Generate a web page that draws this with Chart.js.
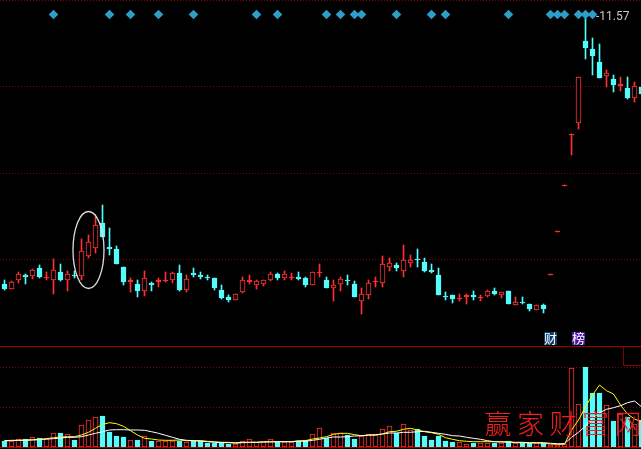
<!DOCTYPE html>
<html>
<head>
<meta charset="utf-8">
<style>
  html, body { margin: 0; padding: 0; background: #000; overflow: hidden; }
  canvas { display: block; }
</style>
<script src="https://cdn.jsdelivr.net/npm/chart.js@4"></script>
</head>
<body>
<canvas id="kline" width="641" height="449"></canvas>
<script>
// values
const opens = [6.21,6.11,6.29,6.39,6.37,6.53,6.33,6.29,6.45,6.29,6.39,6.37,6.77,6.93,7.43,6.95,6.91,6.55,6.25,6.21,6.07,6.23,6.25,6.27,6.29,6.43,6.09,6.43,6.39,6.35,
  6.33,6.09,5.95,5.89,6.05,6.25,6.19,6.21,6.29,6.41,6.33,6.33,6.35,6.33,6.19,6.43,6.29,6.13,6.21,6.29,6.21,5.87,5.99,6.25,6.23,6.55,6.59,6.47,6.63,6.71,6.65,
  6.49,6.39,5.97,5.99,5.91,5.95,5.99,5.93,5.97,6.07,5.99,6.07,5.79,5.85,5.81,5.69,5.79,6.39,7.25,8.17,9.19,9.43,11.07,10.91,10.65,10.37,10.31,10.17,10.13,9.93,10.15];
const closes = [6.11,6.25,6.41,6.35,6.49,6.35,6.35,6.49,6.29,6.41,6.37,6.87,7.05,7.39,7.15,6.91,6.61,6.25,6.29,6.07,6.33,6.19,6.29,6.29,6.43,6.09,6.31,6.39,6.35,6.33,
  6.13,5.93,5.89,6.01,6.29,6.29,6.27,6.29,6.41,6.33,6.41,6.35,6.31,6.19,6.45,6.45,6.13,6.19,6.31,6.27,5.95,6.01,6.23,6.27,6.61,6.63,6.53,6.69,6.69,6.69,6.47,
  6.45,5.99,5.95,5.91,5.93,5.99,5.95,5.95,6.07,6.01,6.05,5.81,5.85,5.83,5.71,5.79,5.71,6.41,7.27,8.19,9.21,10.35,10.93,10.77,10.33,10.43,10.19,10.21,9.93,10.17,10.01];
const highs = [6.29,6.27,6.45,6.41,6.51,6.59,6.45,6.71,6.61,6.47,6.47,7.11,7.19,7.55,7.79,7.33,6.97,6.55,6.33,6.29,6.47,6.25,6.33,6.45,6.45,6.59,6.39,6.53,6.45,6.39,
  6.33,6.19,5.99,6.01,6.35,6.39,6.29,6.29,6.45,6.43,6.47,6.43,6.45,6.35,6.45,6.61,6.35,6.29,6.35,6.39,6.27,6.13,6.29,6.35,6.77,6.73,6.63,6.99,6.79,6.91,6.73,
  6.61,6.53,6.05,5.99,6.01,6.01,6.07,5.99,6.09,6.13,6.05,6.07,5.95,5.95,5.81,5.79,5.81,6.41,7.27,8.19,9.21,10.35,11.57,11.13,11.01,10.49,10.39,10.35,10.35,10.25,10.15];
const lows = [6.09,6.11,6.23,6.21,6.31,6.33,6.29,6.01,6.27,6.07,6.33,6.29,6.73,6.83,7.15,6.79,6.61,6.19,6.05,5.95,5.97,6.07,6.15,6.25,6.23,6.07,6.05,6.35,6.31,6.29,
  6.09,5.91,5.85,5.89,6.03,6.21,6.11,6.17,6.27,6.29,6.29,6.29,6.29,6.15,6.19,6.35,6.13,5.87,6.07,6.19,5.95,5.61,5.91,6.15,6.15,6.47,6.47,6.35,6.55,6.55,6.45,
  6.43,5.99,5.89,5.83,5.87,5.81,5.89,5.87,5.95,5.99,5.93,5.81,5.79,5.81,5.67,5.69,5.63,6.39,7.25,8.17,8.79,9.31,10.71,10.39,10.33,10.15,10.05,10.07,9.91,9.85,10.01];

const volumes = [6,6,8,8,10,9,8,14,14,13,7,22,27,30,31,15,11,10,7,7,11,6,6,6,6,6,5,6,6,4,
  4,5,3,3,6,8,5,5,8,5,5,5,6,7,13,19,9,14,14,12,8,11,13,12,18,21,14,23,17,18,11,
  7,11,6,5,5,3,4,4,4,4,4,6,4,4,4,4,4,2,2,3,79,43,80,54,54,42,26,33,30,23,27];
const maFast = [6.3,6.3,6.7,7,7.3,7.7,8.3,9.3,10,10.3,10.3,12,14.7,18.7,22.7,24.3,23.3,20.7,16.3,12,8.7,8,7,6.7,6.7,7,6.3,6.3,6.3,5.7,
  5.3,4.7,4.7,3.7,4.3,4.7,4.7,5.3,5.3,5.3,5.3,5.3,6.3,6.3,8,9,10.3,12.7,13.7,13.7,12.3,11.3,11.7,12,13,15.3,15.7,17.7,18.7,17,15.3,
  14.3,12.7,9.3,7.7,6.3,5.7,5.3,5.3,5.3,5.3,5.3,5.3,4.3,4.3,4,4,3.7,3,2.7,2.7,17,27,40.3,52,62,56.3,53,42,33,28,25.3];
const maSlow = [6.3,6.7,6.7,6.7,7,7.3,8,8.3,9,9.7,9.7,10.3,12,13.7,15.3,17,17.3,17.3,17,17,16.7,15.3,13.7,11.7,9.7,7.7,6.7,6.3,6,5.3,
  4.7,4.3,4.3,4.3,4.7,4.7,4.7,5,5,5.3,5.3,5.3,5.7,5.7,6.7,7.7,9,10,10,10.3,11,11.3,12,12.3,13,14,14,14.7,14.7,15.3,15.7,
  14.7,13.7,12.7,11.3,11,9.7,8.7,7.7,6.3,5.3,5,4.7,4.7,4.7,4.3,4.3,4.3,3.7,3.3,3.3,9.7,14.7,21,28.7,34.3,37.7,39.3,41.3,44.3,46,40.3];

const signalDays = [7,15,18,22,27,36,39,46,48,50,51,56,61,63,72,78,79,80,82,83,84];
const priceGrid = [11.89, 10.17, 8.43, 6.71];
const volumeGrid = [80, 40];
const priceLabel = "-11.57";
const badges = ["财", "榜"];
const watermark = ["赢", "家", "财", "富", "网"];

const RED = "#ff3232";
const CYAN = "#54fcfc";
const GRID = "#800000";

const days = opens.map((o, i) => i);
const isUp = (i) => closes[i] >= opens[i];
// a body of one or two pixels has no room for a hollow middle
const bodyFill = (i) => {
  if (!isUp(i)) return CYAN;
  return Math.abs(closes[i] - opens[i]) < 0.05 ? RED : "#000000";
};

const overlay = {
  id: "overlay",
  afterDatasetsDraw(chart) {
    const ctx = chart.ctx;
    const x = chart.scales.x;
    const y = chart.scales.y;
    const vol = chart.scales.vol;
    ctx.save();

    // panel lines
    ctx.strokeStyle = "#a00000";
    ctx.lineWidth = 1;
    ctx.beginPath();
    ctx.moveTo(0, Math.round(vol.top) + 0.5);
    ctx.lineTo(641, Math.round(vol.top) + 0.5);
    ctx.moveTo(0, Math.round(vol.getPixelForValue(0)) + 0.5);
    ctx.lineTo(641, Math.round(vol.getPixelForValue(0)) + 0.5);
    ctx.stroke();
    ctx.strokeStyle = GRID;
    ctx.beginPath();
    ctx.moveTo(623.5, vol.top);
    ctx.lineTo(623.5, vol.top + 19.5);
    ctx.lineTo(641, vol.top + 19.5);
    ctx.stroke();

    // the circled candles
    ctx.strokeStyle = "#dcdcdc";
    ctx.lineWidth = 1.3;
    ctx.beginPath();
    ctx.ellipse(x.getPixelForValue(12), y.getPixelForValue(6.89), 15.5, 38.5, 0, 0, Math.PI * 2);
    ctx.stroke();

    // last price
    ctx.fillStyle = "#c8c8c8";
    ctx.font = "12px Roboto";
    ctx.textAlign = "left";
    ctx.textBaseline = "middle";
    ctx.fillText(priceLabel, 596, y.getPixelForValue(11.57) + 0.5);

    // badges
    ctx.font = "13px 'Noto Sans CJK SC'";
    ctx.textAlign = "center";
    [[78, "#0c3c6c"], [82, "#4a12a0"]].forEach((b, n) => {
      const cx = x.getPixelForValue(b[0]);
      ctx.fillStyle = b[1];
      ctx.fillRect(cx - 6.5, 332, 13, 13);
      ctx.fillStyle = "#ffffff";
      ctx.fillText(badges[n], cx, 338.5);
    });

    // watermark
    ctx.fillStyle = "#f02020";
    ctx.font = "300 27px 'Noto Sans CJK SC'";
    watermark.forEach((w, n) => {
      ctx.fillText(w, 498 + n * 32.5, 424);
    });
    ctx.restore();
  }
};

new Chart(document.getElementById("kline"), {
  data: {
    datasets: [
      {
        type: "scatter",
        data: signalDays.map((d) => ({ x: d, y: 11.6 })),
        pointStyle: "rectRot",
        pointRadius: 4.8,
        borderWidth: 0,
        backgroundColor: "#2e9dc8",
        yAxisID: "y",
        order: 0
      },
      {
        type: "bar",
        data: days.map((d) => ({ x: d, y: [opens[d], closes[d]] })),
        grouped: false,
        barThickness: 5,
        borderWidth: 1,
        borderSkipped: false,
        borderColor: days.map((d) => (isUp(d) ? RED : CYAN)),
        backgroundColor: days.map(bodyFill),
        yAxisID: "y",
        order: 1
      },
      {
        type: "bar",
        data: days.map((d) => ({ x: d, y: [lows[d], highs[d]] })),
        grouped: false,
        barThickness: 1,
        borderWidth: 0,
        backgroundColor: days.map((d) => (isUp(d) ? RED : CYAN)),
        yAxisID: "y",
        order: 2
      },
      {
        type: "line",
        data: days.map((d) => ({ x: d, y: maSlow[d] })),
        borderColor: "#ffffff",
        borderWidth: 1,
        pointRadius: 0,
        tension: 0,
        yAxisID: "vol",
        order: 3
      },
      {
        type: "line",
        data: days.map((d) => ({ x: d, y: maFast[d] })),
        borderColor: "#ffff00",
        borderWidth: 1,
        pointRadius: 0,
        tension: 0,
        yAxisID: "vol",
        order: 4
      },
      {
        type: "bar",
        data: days.map((d) => ({ x: d, y: volumes[d] })),
        grouped: false,
        barThickness: 5,
        borderWidth: 1,
        borderSkipped: false,
        borderColor: days.map((d) => (isUp(d) ? RED : CYAN)),
        backgroundColor: days.map((d) => (isUp(d) ? "#000000" : CYAN)),
        yAxisID: "vol",
        order: 5
      }
    ]
  },
  options: {
    responsive: false,
    devicePixelRatio: 1,
    animation: false,
    layout: { padding: 0, autoPadding: false },
    plugins: { legend: { display: false }, tooltip: { enabled: false } },
    scales: {
      x: {
        type: "linear",
        display: false,
        offset: false,
        min: -4.5 / 7,
        max: -4.5 / 7 + 641 / 7
      },
      vol: {
        stack: "panels",
        stackWeight: 103,
        min: -2,
        max: 101,
        afterBuildTicks: (s) => { s.ticks = volumeGrid.map((v) => ({ value: v })); },
        ticks: { display: false },
        grid: { color: GRID, drawTicks: false },
        border: { display: false, dash: [1, 2] }
      },
      y: {
        stack: "panels",
        stackWeight: 346,
        min: 11.89 - 346 * 0.02,
        max: 11.89,
        afterBuildTicks: (s) => { s.ticks = priceGrid.map((v) => ({ value: v })); },
        ticks: { display: false },
        grid: { color: GRID, drawTicks: false },
        border: { display: false, dash: [1, 2] }
      }
    }
  },
  plugins: [overlay]
});
</script>
</body>
</html>
